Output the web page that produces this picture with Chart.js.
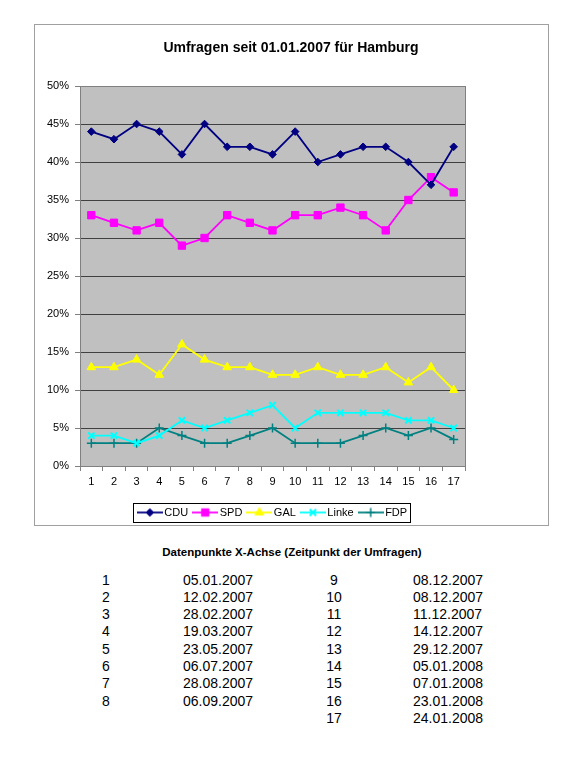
<!DOCTYPE html>
<html>
<head>
<meta charset="utf-8">
<script src="https://cdn.jsdelivr.net/npm/chart.js@4.4.1/dist/chart.umd.min.js"></script>
<style>
  html, body { margin: 0; padding: 0; background: #ffffff; }
  body { width: 574px; height: 768px; position: relative; overflow: hidden; font-family: "Liberation Sans", Arial, sans-serif; color: #000; }
  #frame { position: absolute; left: 34px; top: 24px; width: 513px; height: 500px; border: 1px solid #a0a0a0; background: #fff; }
  #chart { position: absolute; left: 0; top: 0; }
  #title { position: absolute; left: 34px; width: 514px; top: 38px; text-align: center; font-weight: bold; font-size: 14px; line-height: 18px; }
  #tabTitle { position: absolute; left: 92px; width: 400px; top: 545px; text-align: center; font-weight: bold; font-size: 11.5px; line-height: 14px; }
  .cell { position: absolute; font-size: 14px; line-height: 17px; white-space: nowrap; }
</style>
</head>
<body>
<div id="frame"></div>
<canvas id="chart" width="574" height="540"></canvas>
<div id="title">Umfragen seit 01.01.2007 für Hamburg</div>
<div id="tabTitle">Datenpunkte X-Achse (Zeitpunkt der Umfragen)</div>
<div id="table"></div>
<script>
// ---- data ----
const categories = ['1','2','3','4','5','6','7','8','9','10','11','12','13','14','15','16','17'];
const seriesNames = ['CDU', 'SPD', 'GAL', 'Linke', 'FDP'];
const cdu   = [44, 43, 45, 44, 41, 45, 42, 42, 41, 44, 40, 41, 42, 42, 40, 37, 42];
const spd   = [33, 32, 31, 32, 29, 30, 33, 32, 31, 33, 33, 34, 33, 31, 35, 38, 36];
const gal   = [13, 13, 14, 12, 16, 14, 13, 13, 12, 12, 13, 12, 12, 13, 11, 13, 10];
const linke = [4, 4, 3, 4, 6, 5, 6, 7, 8, 5, 7, 7, 7, 7, 6, 6, 5];
const fdp   = [3, 3, 3, 5, 4, 3, 3, 4, 5, 3, 3, 3, 4, 5, 4, 5, 3.5];
const yTicks = [0, 5, 10, 15, 20, 25, 30, 35, 40, 45, 50];
const pointNumbers = ['1','2','3','4','5','6','7','8','9','10','11','12','13','14','15','16','17'];
const pointDates = ['05.01.2007','12.02.2007','28.02.2007','19.03.2007','23.05.2007','06.07.2007','28.08.2007','06.09.2007',
                    '08.12.2007','08.12.2007','11.12.2007','14.12.2007','29.12.2007','05.01.2008','07.01.2008','23.01.2008','24.01.2008'];

// ---- styles ----
const styles = [
  { color: '#000080', pointStyle: 'rectRot', radius: 3.8, borderWidth: 1 },
  { color: '#ff00ff', pointStyle: 'rect', radius: 5.2, borderWidth: 1 },
  { color: '#ffff00', pointStyle: 'triangle', radius: 5, borderWidth: 1 },
  { color: '#00ffff', pointStyle: 'crossRot', radius: 4.5, borderWidth: 2 },
  { color: '#008080', pointStyle: 'cross', radius: 4.5, borderWidth: 1.5 }
];
const values = [cdu, spd, gal, linke, fdp];

function legendImage(st) {
  const c = document.createElement('canvas');
  c.width = 26; c.height = 12;
  const ctx = c.getContext('2d');
  ctx.strokeStyle = st.color; ctx.fillStyle = st.color; ctx.lineWidth = 1.8;
  ctx.beginPath(); ctx.moveTo(0, 6); ctx.lineTo(26, 6); ctx.stroke();
  ctx.lineWidth = st.borderWidth;
  Chart.helpers.drawPoint(ctx, { pointStyle: st.pointStyle, radius: st.radius, rotation: 0, borderWidth: st.borderWidth }, 13, 6);
  return c;
}

const datasets = seriesNames.map((name, i) => ({
  label: name,
  data: values[i],
  borderColor: styles[i].color,
  backgroundColor: styles[i].color,
  borderWidth: 1.8,
  tension: 0,
  pointStyle: styles[i].pointStyle,
  pointRadius: styles[i].radius,
  pointBorderWidth: styles[i].borderWidth,
  pointBackgroundColor: styles[i].color,
  pointBorderColor: styles[i].color,
  yAxisID: 'y'
}));

const plotBg = {
  id: 'plotBg',
  beforeDraw(chart) {
    const a = chart.chartArea, ctx = chart.ctx;
    ctx.save(); ctx.fillStyle = '#c0c0c0';
    ctx.fillRect(a.left, a.top, a.right - a.left, a.bottom - a.top);
    ctx.restore();
  },
  beforeDatasetsDraw(chart) {
    const a = chart.chartArea, ctx = chart.ctx;
    ctx.save(); ctx.strokeStyle = '#808080'; ctx.lineWidth = 1;
    ctx.strokeRect(Math.round(a.left) + 0.5, Math.round(a.top) + 0.5, Math.round(a.right - a.left), Math.round(a.bottom - a.top));
    ctx.restore();
  },
  afterDraw(chart) {
    const lg = chart.legend;
    if (!lg || !lg.legendHitBoxes || !lg.legendHitBoxes.length) return;
    const hb = lg.legendHitBoxes;
    const first = hb[0], last = hb[hb.length - 1];
    const cy = first.top + first.height / 2;
    const ctx = chart.ctx;
    ctx.save(); ctx.strokeStyle = '#000'; ctx.lineWidth = 1;
    const l = Math.round(first.left - 8) + 0.5, r = Math.round(last.left + last.width + 3) + 0.5;
    const t = Math.round(cy - 9.5) + 0.5, b = Math.round(cy + 9.5) + 0.5;
    ctx.strokeRect(l, t, r - l, b - t);
    ctx.restore();
  }
};

const font = { family: '"Liberation Sans", Arial, sans-serif', size: 11 };

new Chart(document.getElementById('chart'), {
  type: 'line',
  data: { labels: categories, datasets },
  options: {
    responsive: false,
    animation: false,
    devicePixelRatio: 1,
    layout: { padding: { left: 34, right: 60, top: 86, bottom: 12 } },
    plugins: {
      title: { display: false },
      tooltip: { enabled: false },
      legend: {
        position: 'bottom',
        labels: {
          usePointStyle: true,
          pointStyleWidth: 18,
          padding: 8,
          color: '#000',
          font,
          generateLabels(chart) {
            return chart.data.datasets.map((ds, i) => ({
              text: ds.label,
              pointStyle: legendImage(styles[i]),
              fillStyle: ds.backgroundColor,
              strokeStyle: ds.borderColor,
              lineWidth: 0,
              hidden: false,
              datasetIndex: i,
              fontColor: '#000'
            }));
          }
        }
      }
    },
    scales: {
      x: {
        offset: true,
        grid: { display: true, drawOnChartArea: false, offset: true, tickLength: 5, color: '#808080', tickColor: '#808080' },
        border: { display: true, color: '#808080' },
        ticks: { color: '#000', font, padding: 4, maxRotation: 0, autoSkip: false },
        afterFit(s) { s.height = 33; }
      },
      y: {
        min: 0, max: 50,
        afterBuildTicks(s) { s.ticks = yTicks.map(v => ({ value: v })); },
        grid: { color: '#404040', tickColor: '#808080', tickLength: 5, lineWidth: 1 },
        border: { display: true, color: '#808080' },
        ticks: { color: '#000', font, padding: 6, callback: v => v + '%' },
        afterFit(s) { s.width = 46; }
      },
      yRight: {
        position: 'right',
        display: true,
        grid: { display: false },
        border: { display: false },
        ticks: { display: false },
        afterFit(s) { s.width = 49; }
      }
    }
  },
  plugins: [plotBg]
});

// ---- table of dates ----
const table = document.getElementById('table');
function addCell(text, left, top, align, width) {
  const d = document.createElement('div');
  d.className = 'cell';
  d.textContent = text;
  d.style.top = top + 'px';
  if (align === 'center') { d.style.left = (left - width / 2) + 'px'; d.style.width = width + 'px'; d.style.textAlign = 'center'; }
  else d.style.left = left + 'px';
  table.appendChild(d);
}
const rowTop = 571.5, rowStep = 17.3;
pointNumbers.forEach((n, i) => {
  if (i < 8) {
    const y = rowTop + i * rowStep;
    addCell(n, 102, y, 'left');
    addCell(pointDates[i], 183, y, 'left');
  } else {
    const y = rowTop + (i - 8) * rowStep;
    addCell(n, 334, y, 'center', 30);
    addCell(pointDates[i], 413, y, 'left');
  }
});
</script>
</body>
</html>
